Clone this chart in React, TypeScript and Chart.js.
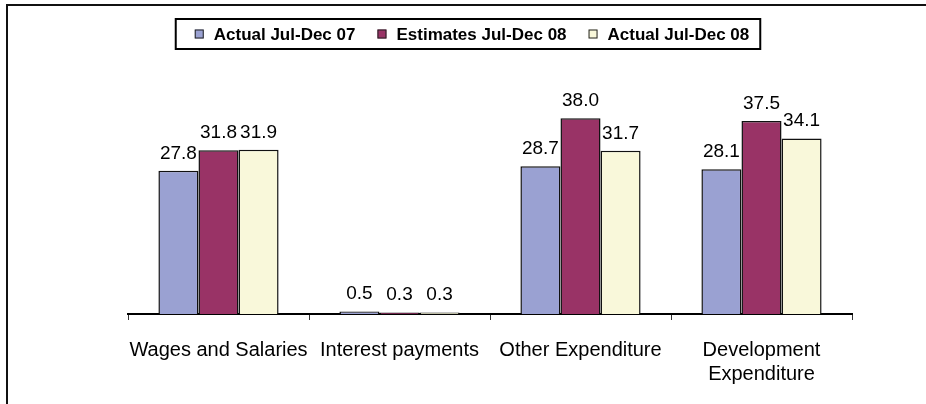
import React, { useEffect, useRef } from "react";
import { Chart, registerables } from "chart.js";

Chart.register(...registerables);

const categories: (string | string[])[] = [
  "Wages and Salaries",
  "Interest payments",
  "Other Expenditure",
  ["Development", "Expenditure"],
];
const seriesNames = ["Actual Jul-Dec 07", "Estimates Jul-Dec 08", "Actual Jul-Dec 08"];
const actual07 = [27.8, 0.5, 28.7, 28.1];
const estimates08 = [31.8, 0.3, 38.0, 37.5];
const actual08 = [31.9, 0.3, 31.7, 34.1];
const seriesColors = ["#9aa1d2", "#993366", "#f9f8da"];

const FONT = "Arial, 'Liberation Sans', sans-serif";

const framePlugin = {
  id: "frame",
  beforeDraw(chart: any) {
    const ctx = chart.ctx;
    ctx.save();
    ctx.fillStyle = "#111";
    ctx.fillRect(6, 4, chart.width - 6, 2);
    ctx.fillRect(6, 4, 2, chart.height - 4);
    ctx.restore();
  },
};

const legendPlugin = {
  id: "customLegend",
  afterDraw(chart: any) {
    const ctx = chart.ctx;
    ctx.save();
    ctx.font = `bold 17px ${FONT}`;
    const sq = 9;
    const gap = 10;
    const sep = 22;
    const ds = chart.data.datasets;
    const widths = ds.map((d: any) => ctx.measureText(d.label).width);
    const total =
      widths.reduce((a: number, b: number) => a + b, 0) + ds.length * (sq + gap) + (ds.length - 1) * sep;
    const cx = 472;
    let x = cx - total / 2;
    const cy = 34;
    ctx.strokeStyle = "#000";
    ctx.lineWidth = 2;
    ctx.strokeRect(x - 19, 19, total + 30, 30);
    ctx.textBaseline = "middle";
    ctx.textAlign = "left";
    ds.forEach((d: any, i: number) => {
      ctx.fillStyle = d.backgroundColor;
      ctx.fillRect(x, cy - sq / 2, sq, sq);
      ctx.strokeStyle = "#222";
      ctx.lineWidth = 1;
      ctx.strokeRect(x + 0.5, cy - sq / 2 + 0.5, sq - 1, sq - 1);
      ctx.fillStyle = "#000";
      ctx.fillText(d.label, x + sq + gap, cy + 1);
      x += sq + gap + widths[i] + sep;
    });
    ctx.restore();
  },
};

const valueLabelPlugin = {
  id: "valueLabels",
  afterDatasetsDraw(chart: any) {
    const ctx = chart.ctx;
    ctx.save();
    ctx.font = `19px ${FONT}`;
    ctx.fillStyle = "#000";
    ctx.textAlign = "center";
    ctx.textBaseline = "alphabetic";
    chart.data.datasets.forEach((d: any, i: number) => {
      const meta = chart.getDatasetMeta(i);
      meta.data.forEach((el: any, j: number) => {
        ctx.fillText(Number(d.data[j]).toFixed(1), el.x, el.y - 12);
      });
    });
    ctx.restore();
  },
};

export default function App() {
  const ref = useRef<HTMLCanvasElement | null>(null);
  useEffect(() => {
    if (!ref.current) return;
    const values = [actual07, estimates08, actual08];
    const chart = new Chart(ref.current, {
      type: "bar",
      data: {
        labels: categories,
        datasets: values.map((v, i) => ({
          label: seriesNames[i],
          data: v,
          backgroundColor: seriesColors[i],
          borderColor: "#111",
          borderWidth: 1.5,
          categoryPercentage: 0.664,
          barPercentage: 1,
        })),
      },
      options: {
        animation: false,
        responsive: false,
        layout: { padding: { left: 128, right: 74, top: 108, bottom: 0 } },
        plugins: {
          legend: { display: false },
          tooltip: { enabled: false },
        },
        scales: {
          x: {
            grid: {
              display: true,
              drawOnChartArea: false,
              drawTicks: true,
              tickLength: 6,
              color: "#333",
              lineWidth: 1,
            },
            border: { display: true, color: "#000", width: 2 },
            ticks: {
              color: "#000",
              font: { family: FONT, size: 20 },
              maxRotation: 0,
              autoSkip: false,
              padding: 18,
            },
            afterFit(scale: any) {
              scale.height = 90;
            },
          },
          y: {
            display: false,
            min: 0,
            max: 40,
          },
        },
      },
      plugins: [framePlugin, legendPlugin, valueLabelPlugin],
    });
    return () => chart.destroy();
  }, []);
  return (
    <div style={{ position: "fixed", left: 0, top: 0, width: 926, height: 404, background: "#fff" }}>
      <canvas ref={ref} width={926} height={404} style={{ display: "block" }} />
    </div>
  );
}
